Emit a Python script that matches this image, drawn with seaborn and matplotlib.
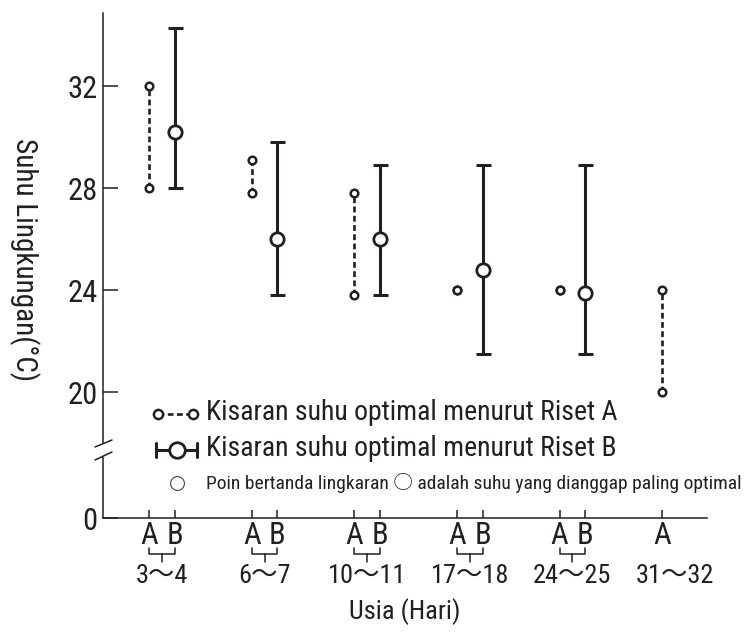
import numpy as np
import pandas as pd
import matplotlib.pyplot as plt
import seaborn as sns
from matplotlib.lines import Line2D

# data
groups = ['3〜4', '6〜7', '10〜11', '17〜18', '24〜25', '31〜32']
a_low = [28, 27.8, 23.8, 24, 24, 20]
a_high = [32, 29.1, 27.8, 24, 24, 24]
b_low = [28, 23.8, 23.8, 21.5, 21.5]
b_mid = [30.2, 26, 26, 24.8, 23.9]
b_high = [34.3, 29.8, 28.9, 28.9, 28.9]
y_ticks = [0, 20, 24, 28, 32]

sns.set_style('ticks')
plt.rcParams['font.family'] = ['Roboto Condensed', 'Noto Sans CJK JP', 'DejaVu Sans']
INK = '#231f20'

W, H = 755, 633
fig = plt.figure(figsize=(W / 100, H / 100), dpi=100)
ax = fig.add_axes([103 / W, 115 / H, 604 / W, 505 / H])

# broken y axis: 0..YB squeezed, YB.. linear
YB, K = 17.73, 68 / 25.5


def fwd(y):
    y = np.asarray(y, float)
    return np.where(y < YB, y * K / YB, K + (y - YB))


def inv(u):
    u = np.asarray(u, float)
    return np.where(u < K, u * YB / K, u - K + YB)


ax.set_yscale('function', functions=(fwd, inv))

off = 0.125
xa = np.arange(len(a_low)) - off
xb = np.arange(len(b_low)) + off

df_a = pd.DataFrame({'x': np.r_[xa, xa], 'y': np.r_[a_low, a_high]})
df_b = pd.DataFrame({'x': xb, 'y': b_mid})

# Riset A: dashed range with small circles
for x, lo, hi in zip(xa, a_low, a_high):
    if hi > lo:
        ax.plot([x, x], [lo, hi], color=INK, lw=1.9, ls=(0, (2.2, 1.3)), zorder=2)
sns.scatterplot(data=df_a, x='x', y='y', ax=ax, marker='o', s=30,
                color='white', edgecolor=INK, linewidth=1.8, zorder=4, legend=False)

# Riset B: error bars with big circles
b_mid_arr = np.array(b_mid)
yerr = [b_mid_arr - np.array(b_low), np.array(b_high) - b_mid_arr]
ax.errorbar(xb, b_mid, yerr=yerr, fmt='none', ecolor=INK, elinewidth=2.2,
            capsize=5.4, capthick=2.2, zorder=3)
sns.scatterplot(data=df_b, x='x', y='y', ax=ax, marker='o', s=92,
                color='white', edgecolor=INK, linewidth=2.0, zorder=5, legend=False)

ax.set_xlim(-0.575, 5.312)
ax.set_ylim(0, 34.87)
ax.set_yticks(y_ticks)
ax.set_yticklabels([str(t) for t in y_ticks])
ax.yaxis.set_minor_locator(plt.NullLocator())

xt = np.r_[xa, xb]
xl = ['A'] * len(xa) + ['B'] * len(xb)
ax.set_xticks(xt)
ax.set_xticklabels(xl)

for s in ['top', 'right']:
    ax.spines[s].set_visible(False)
for s in ['left', 'bottom']:
    ax.spines[s].set_linewidth(1.1)
    ax.spines[s].set_color(INK)
ax.tick_params(axis='y', direction='in', length=10.8, width=1.1, pad=4,
               labelsize=22, color=INK, labelcolor=INK)
ax.tick_params(axis='x', direction='in', length=5.8, width=1.1, pad=2,
               labelsize=22, color=INK, labelcolor=INK)

ax.set_ylabel('Suhu Lingkungan(°C)', fontsize=21, rotation=270, color=INK, va='center')
ax.yaxis.set_label_coords(-0.131, 0.511)
ax.set_xlabel('Usia (Hari)', fontsize=19, color=INK, va='center')


def py(p):
    return (518 - p) / 505


ax.xaxis.set_label_coords(0.5, py(612))

# brackets and group labels under A/B
for i, g in enumerate(groups):
    if i < len(b_low):
        ax.plot([i - off, i - off, i + off, i + off], [py(548), py(554), py(554), py(548)],
                transform=ax.get_xaxis_transform(), color=INK, lw=1.1, clip_on=False)
        ax.plot([i, i], [py(554), py(562)], transform=ax.get_xaxis_transform(),
                color=INK, lw=1.1, clip_on=False)
    ax.text(i, py(576), g, transform=ax.get_xaxis_transform(), ha='center',
            va='center', fontsize=19, color=INK)

# axis break marks
ax.plot([0, 0], [py(445), py(455)], transform=ax.transAxes, color='white',
        lw=3, clip_on=False, zorder=3)
for y0, y1 in [(447, 440), (460, 452)]:
    ax.plot([-8 / 604, 9 / 604], [py(y0), py(y1)], transform=ax.transAxes,
            color=INK, lw=1.1, clip_on=False, zorder=4)


# legend drawn by hand
def fx(p):
    return p / W


def fy(p):
    return 1 - p / H


fig.add_artist(Line2D([fx(158), fx(193)], [fy(414), fy(414)], color=INK, lw=1.9,
                      ls=(0, (2.2, 1.3)), marker='o', markersize=6.6,
                      markerfacecolor='white', markeredgewidth=1.8, markevery=[0, 1]))
fig.add_artist(Line2D([fx(156), fx(197)], [fy(450), fy(450)], color=INK, lw=2.2))
for p in (156, 197):
    fig.add_artist(Line2D([fx(p), fx(p)], [fy(443), fy(457)], color=INK, lw=2.2))
fig.add_artist(Line2D([fx(177)], [fy(450)], marker='o', markersize=11.2,
                      markerfacecolor='white', markeredgecolor=INK, markeredgewidth=2.0))
fig.add_artist(Line2D([fx(177)], [fy(483)], marker='o', markersize=10,
                      markerfacecolor='white', markeredgecolor='#444444', markeredgewidth=0.8))

fig.text(fx(206), fy(413), 'Kisaran suhu optimal menurut Riset A', fontsize=20,
         va='center', ha='left', color=INK)
fig.text(fx(206), fy(449), 'Kisaran suhu optimal menurut Riset B', fontsize=20,
         va='center', ha='left', color=INK)
fig.text(fx(206), fy(483), 'Poin bertanda lingkaran ○ adalah suhu yang dianggap paling optimal',
         fontsize=14, va='center', ha='left', color=INK)

fig.savefig('out.png', dpi=100)
